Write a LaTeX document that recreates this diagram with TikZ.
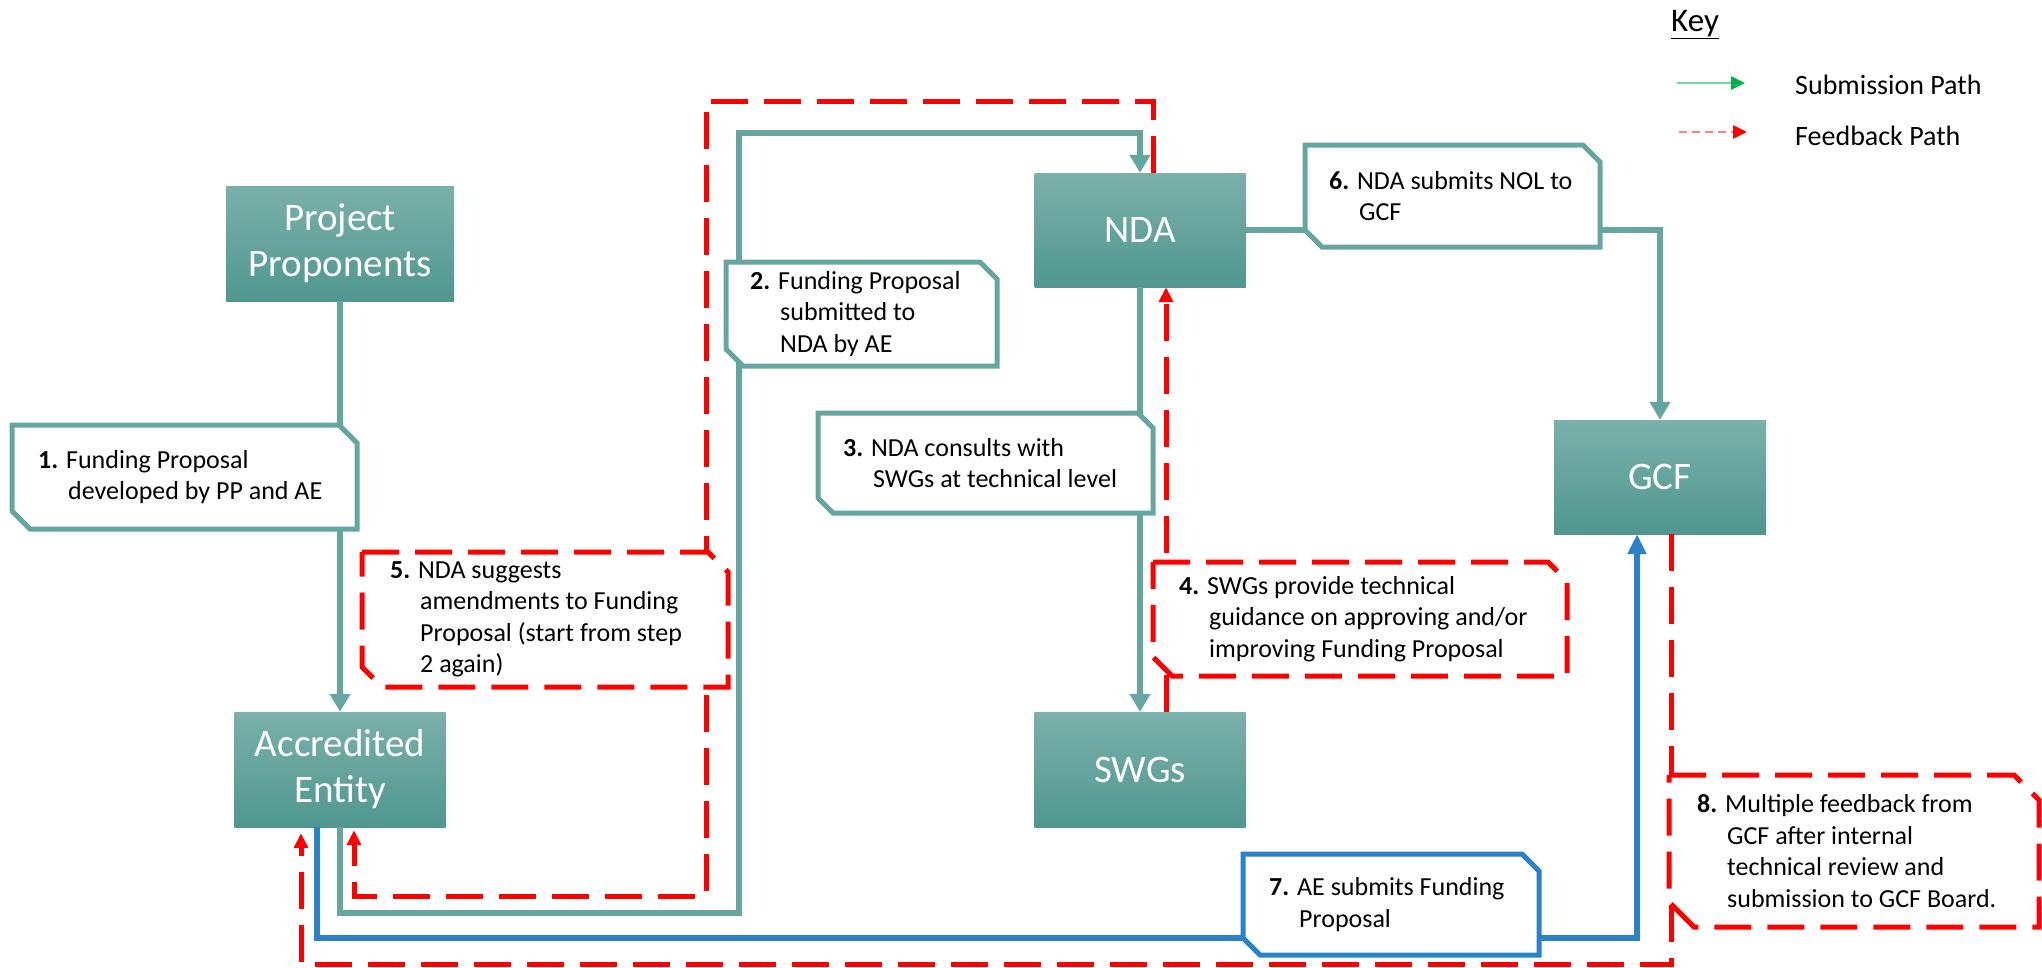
\documentclass[tikz,border=0pt]{standalone}
\usepackage{fontspec}
\setmainfont{Carlito}
\usetikzlibrary{arrows.meta}
\definecolor{tealline}{RGB}{102,166,160}
\definecolor{tealtop}{RGB}{122,177,170}
\definecolor{tealbot}{RGB}{80,151,143}
\definecolor{aeblue}{RGB}{43,130,200}
\definecolor{keygreen}{RGB}{0,176,80}
\definecolor{keygreenl}{RGB}{120,210,160}
\definecolor{keyredl}{RGB}{255,128,128}
\def\snipbox[#1](#2,#3)(#4,#5)#6{\draw[#1] (#2,#3) -- ({#4-#6},#3) -- (#4,{#3+#6}) -- (#4,#5) -- ({#2+#6},#5) -- (#2,{#5-#6}) -- cycle;}
\newcommand\stepind{\hspace*{30pt}}
\tikzset{
	actor/.style={rectangle, inner sep=0pt, minimum height=115pt, top color=tealtop, bottom color=tealbot, text=white, font=\fontsize{39}{46}\selectfont, align=center},
	steptext/.style={anchor=west, inner sep=0pt, align=left, font=\fontsize{26}{31.5}\selectfont},
	tealbox/.style={draw=tealline, line width=5pt, fill=white},
	redbox/.style={draw=red, line width=5pt, fill=white, dash pattern=on 37pt off 16pt},
	bluebox/.style={draw=aeblue, line width=5pt, fill=white},
	sub/.style={draw=tealline, line width=6.5pt, -{Triangle[width=20pt,length=18pt]}},
	fb/.style={draw=red, line width=5pt, dash pattern=on 37pt off 16pt, -{Triangle[width=14pt,length=15pt]}},
	gcfsub/.style={draw=aeblue, line width=6.5pt, -{Triangle[width=18pt,length=20pt]}},
	keysub/.style={draw=keygreenl, line width=2.5pt, -{Triangle[width=13pt,length=14pt,color=keygreen]}},
	keyfb/.style={draw=keyredl, line width=2.5pt, dash pattern=on 8pt off 5pt, -{Triangle[width=13pt,length=14pt,color=red]}},
	keytext/.style={anchor=west, inner sep=0pt, font=\fontsize{28}{34}\selectfont},
}

\begin{document}
\begin{tikzpicture}[x=1pt,y=-1pt]
			%%%%% START %%%%%
			\useasboundingbox (0,0) rectangle (2042,967);
			
			\node[actor, minimum width=228pt] (pp) at (340,243.5) {Project\\Proponents};
			\node[actor, minimum width=211pt] (ae) at (340,769.5) {Accredited\\Entity};
			\node[actor, minimum width=211pt, minimum height=114pt] (nda) at (1140,230) {NDA};
			\node[actor, minimum width=211pt] (swg) at (1140,769.5) {SWGs};
			\node[actor, minimum width=212pt, minimum height=114pt] (gcf) at (1660,477) {GCF};
			
			\coordinate (loopA) at (739,913);
			\coordinate (loopB) at (739,133);
			\coordinate (fbTop) at (706,101);
			\coordinate (fbLow) at (706,896);
			\coordinate (blueLow) at (1000,938);
			\coordinate (fbBottom) at (1000,964);
			
			\draw[sub] (pp) -- (ae);
			\draw[sub] (ae.south) |- (loopA) -- (loopB) -| (nda.north);
			\draw[fb, shorten >=3pt] ([xshift=13pt]nda.north) |- (fbTop) -- (fbLow) -| ([xshift=14pt]ae.south);
			\draw[sub] (nda) -- (swg);
			\draw[fb] ([xshift=26pt]swg.north) -- ([xshift=26pt]nda.south);
			\draw[sub] (nda.east) -| (gcf.north);
			\draw[gcfsub] ([xshift=-23pt]ae.south) |- (blueLow) -| ([xshift=-23pt]gcf.south);
			\draw[fb, shorten >=6pt] ([xshift=11pt]gcf.south) |- (fbBottom) -| ([xshift=-39pt]ae.south);
			
			\snipbox[tealbox](12,425)(357,529){18}
			\snipbox[tealbox](726,262)(997,366){17}
			\snipbox[tealbox](818,413)(1153,513){15}
			\snipbox[redbox](1153,562)(1567,676){19}
			\snipbox[redbox](362,552)(728,687){20}
			\snipbox[tealbox](1305,145)(1600,247){17}
			\snipbox[bluebox](1243,854)(1539,955){17}
			\snipbox[redbox](1669,775)(2039,927){25}
			
			\node[steptext] (t1) at (38,477) {\textbf{1.} Funding Proposal\\\stepind developed by PP and AE};
			\node[steptext] (t2) at (750,314) {\textbf{2.} Funding Proposal\\\stepind submitted to\\\stepind NDA by AE};
			\node[steptext] (t3) at (843,463) {\textbf{3.} NDA consults with\\\stepind SWGs at technical level};
			\node[steptext] (t4) at (1179,619) {\textbf{4.} SWGs provide technical\\\stepind guidance on approving and/or\\\stepind improving Funding Proposal};
			\node[steptext] (t5) at (390,619.5) {\textbf{5.} NDA suggests\\\stepind amendments to Funding\\\stepind Proposal (start from step\\\stepind 2 again)};
			\node[steptext] (t6) at (1329,196) {\textbf{6.} NDA submits NOL to\\\stepind GCF};
			\node[steptext] (t7) at (1269,904.5) {\textbf{7.} AE submits Funding\\\stepind Proposal};
			\node[steptext] (t8) at (1697,851) {\textbf{8.} Multiple feedback from\\\stepind GCF after internal\\\stepind technical review and\\\stepind submission to GCF Board.};
			
			% key
			\node[anchor=base west, inner sep=0pt, font=\fontsize{33}{40}\selectfont] (key) at (1671,31) {\underline{Key}};
			\coordinate (ks1) at (1677,83);
			\coordinate (ks2) at (1745,83);
			\coordinate (kf1) at (1679,132);
			\coordinate (kf2) at (1747,132);
			\draw[keysub] (ks1) -- (ks2);
			\draw[keyfb] (kf1) -- (kf2);
			\node[keytext] (ksub) at (1795,85) {Submission Path};
			\node[keytext] (kfb) at (1795,136) {Feedback Path};
			
			%%%%% END %%%%%
\end{tikzpicture}
\end{document}
